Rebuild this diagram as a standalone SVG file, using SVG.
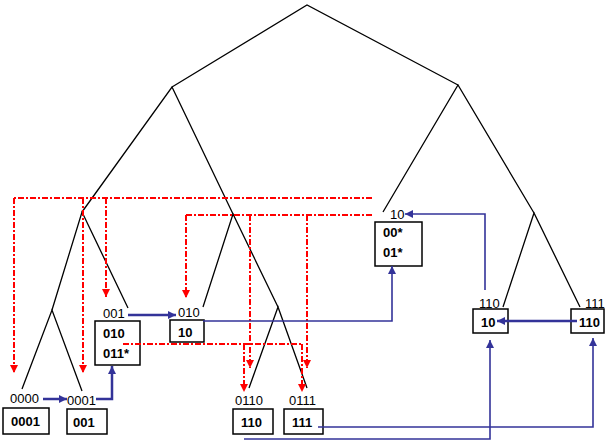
<svg xmlns="http://www.w3.org/2000/svg" width="605" height="443" viewBox="0 0 605 443">
<style>
.tree{stroke:#000;stroke-width:1.3;fill:none}
.red{stroke:#ff0000;stroke-width:2;fill:none;stroke-dasharray:6,2,2,2}
.blk{stroke:#333399;stroke-width:2.5;fill:none}
.bln{stroke:#333399;stroke-width:1.6;fill:none}
.box{fill:none;stroke:#000;stroke-width:1.5}
.lbl{font-family:"Liberation Sans",Arial,sans-serif;font-size:13px;fill:#000}
.bt{font-family:"Liberation Sans",Arial,sans-serif;font-size:13px;font-weight:bold;fill:#000}
</style>
<defs>
<marker id="ra" viewBox="0 0 10 10" refX="10" refY="5" markerUnits="userSpaceOnUse" markerWidth="8" markerHeight="8" orient="auto"><path d="M0,0 L10,5 L0,10 z" fill="#ff0000"/></marker>
<marker id="ba" viewBox="0 0 10 10" refX="10" refY="5" markerUnits="userSpaceOnUse" markerWidth="9" markerHeight="8" orient="auto"><path d="M0,0 L10,5 L0,10 z" fill="#333399"/></marker>
</defs>
<g id="tree" class="tree">
<path d="M172,87 L307,5 L458,85"/>
<path d="M82,212 L172,87 L233,214"/>
<path d="M52,310 L82,212 L128,308"/>
<path d="M22,389 L52,310 L82,391"/>
<path d="M203,307 L233,214 L278,307"/>
<path d="M249,388 L278,307 L307,388"/>
<path d="M383,212 L458,85 L534,213"/>
<path d="M503,307 L534,213 L580,307"/>
</g>
<g id="n0000"><text class="lbl" x="10" y="403">0000</text><rect class="box" x="3" y="408" width="46" height="26"/><text class="bt" x="11" y="426">0001</text></g>
<g id="n0001"><text class="lbl" x="67" y="405">0001</text><rect class="box" x="67" y="409" width="40" height="25"/><text class="bt" x="73" y="427">001</text></g>
<g id="n001"><text class="lbl" x="103" y="318">001</text><rect class="box" x="95" y="321" width="45" height="44"/><text class="bt" x="103" y="338">010</text><text class="bt" x="103" y="358">011*</text></g>
<g id="n010"><text class="lbl" x="178" y="317">010</text><rect class="box" x="170" y="320" width="34" height="22"/><text class="bt" x="178" y="337">10</text></g>
<g id="n10"><text class="lbl" x="390" y="219">10</text><rect class="box" x="375" y="222" width="47" height="44"/><text class="bt" x="383" y="237">00*</text><text class="bt" x="383" y="257">01*</text></g>
<g id="n0110"><text class="lbl" x="235" y="405">0110</text><rect class="box" x="233" y="409" width="40" height="25"/><text class="bt" x="241" y="427">110</text></g>
<g id="n0111"><text class="lbl" x="289" y="405">0111</text><rect class="box" x="284" y="409" width="39" height="25"/><text class="bt" x="292" y="427">111</text></g>
<g id="n110"><text class="lbl" x="479" y="308">110</text><rect class="box" x="473" y="309" width="35" height="24"/><text class="bt" x="481" y="327">10</text></g>
<g id="n111"><text class="lbl" x="585" y="308">111</text><rect class="box" x="571" y="309" width="33" height="24"/><text class="bt" x="579" y="327">110</text></g>
<g id="connectors">
<g id="red">
<path class="red" d="M372,198 L14,198"/>
<path class="red" d="M14,198 L14,373" marker-end="url(#ra)"/>
<path class="red" d="M83,198 L83,373" marker-end="url(#ra)"/>
<path class="red" d="M106,198 L106,297" marker-end="url(#ra)"/>
<path class="red" d="M372,215 L186,215"/>
<path class="red" d="M186,215 L186,298" marker-end="url(#ra)"/>
<path class="red" d="M250,215 L250,368" marker-end="url(#ra)"/>
<path class="red" d="M307,215 L307,368" marker-end="url(#ra)"/>
<path class="red" d="M123,344 L302,344"/>
<path class="red" d="M244,344 L244,392" marker-end="url(#ra)"/>
<path class="red" d="M302,344 L302,392" marker-end="url(#ra)"/>
</g>
<g id="blue">
<path class="blk" d="M43,399 L67,399" marker-end="url(#ba)"/>
<path class="blk" d="M96,399 L112,399 L112,366" marker-end="url(#ba)"/>
<path class="blk" d="M128,315 L176,315" marker-end="url(#ba)"/>
<path class="bln" d="M203,321 L392,321 L392,266" marker-end="url(#ba)"/>
<path class="bln" d="M485,290 L485,214 L405,214" marker-end="url(#ba)"/>
<path class="blk" d="M577,321 L497,321" marker-end="url(#ba)"/>
<path class="bln" d="M318,427 L593,427 L593,338" marker-end="url(#ba)"/>
<path class="bln" d="M244,439 L490,439 L490,340" marker-end="url(#ba)"/>
</g>
</g>
</svg>
